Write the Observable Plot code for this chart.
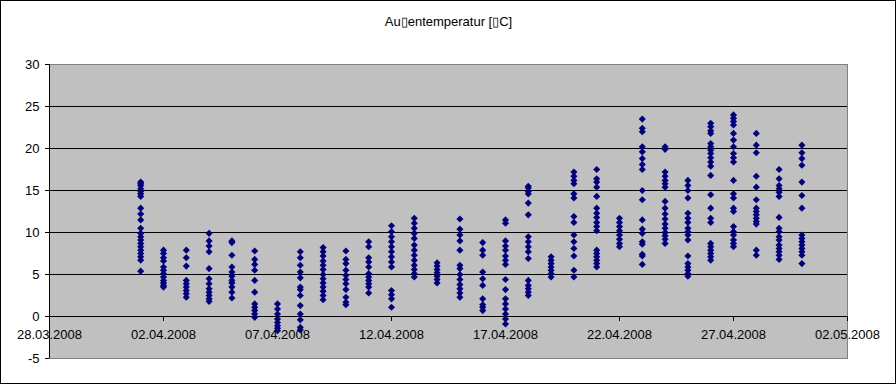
<!DOCTYPE html>
<html>
<head>
<meta charset="utf-8">
<script src="https://cdn.jsdelivr.net/npm/d3@7"></script>
<script src="https://cdn.jsdelivr.net/npm/@observablehq/plot@0.6"></script>
<style>
html, body { margin: 0; padding: 0; background: #fff; overflow: hidden; }
</style>
</head>
<body>
<div id="chart"></div>
<script>
const title = "Au\u25AFentemperatur [\u25AFC]";

const days = [
  "01.04.2008","02.04.2008","03.04.2008","04.04.2008","05.04.2008","06.04.2008",
  "07.04.2008","08.04.2008","09.04.2008","10.04.2008","11.04.2008","12.04.2008",
  "13.04.2008","14.04.2008","15.04.2008","16.04.2008","17.04.2008","18.04.2008",
  "19.04.2008","20.04.2008","21.04.2008","22.04.2008","23.04.2008","24.04.2008",
  "25.04.2008","26.04.2008","27.04.2008","28.04.2008","29.04.2008","30.04.2008"
];

const temps = [
  [16.0,15.8,15.6,15.2,14.9,14.6,14.3,12.9,12.2,11.5,10.5,9.9,9.5,9.1,8.7,8.3,7.9,7.5,7.1,6.7,5.4],
  [7.9,7.5,7.0,6.6,5.9,5.5,5.1,4.7,4.3,4.0,3.7,3.5],
  [7.9,7.0,6.0,4.3,3.9,3.5,3.1,2.7,2.3],
  [9.9,9.0,8.4,7.7,5.7,4.5,3.9,3.3,2.9,2.5,2.1,1.8],
  [9.0,8.8,7.3,5.9,5.3,4.8,4.3,4.0,3.5,2.9,2.2],
  [7.8,6.8,6.2,5.5,4.3,2.9,1.5,1.1,0.7,0.3,-0.1],
  [1.5,0.9,0.3,-0.3,-0.7,-1.1,-1.4,-1.7],
  [7.7,7.0,6.1,5.3,4.6,3.5,3.2,2.5,1.3,0.3,-0.4,-1.3,-1.6],
  [8.2,7.7,7.2,6.6,6.1,5.6,5.0,4.5,4.0,3.5,3.0,2.5,2.0],
  [7.8,6.8,6.3,5.5,4.9,4.4,3.9,3.2,2.3,1.7,1.4],
  [8.9,8.3,7.0,6.5,5.9,5.1,4.7,4.3,3.9,3.5,2.8],
  [10.8,10.1,9.5,8.9,8.3,7.7,7.1,6.5,5.9,3.1,2.6,2.1,1.1],
  [11.7,11.1,10.5,9.9,9.3,8.5,7.9,7.3,6.7,6.1,5.6,5.1,4.7],
  [6.4,6.0,5.6,5.2,4.8,4.4,4.0],
  [11.6,10.4,9.7,9.0,7.9,6.1,5.7,5.0,4.4,3.8,3.3,2.8,2.3],
  [8.8,7.9,7.3,5.3,4.5,3.7,2.1,1.4,1.1,0.7],
  [11.5,11.1,9.0,8.4,7.9,7.2,6.7,6.2,4.4,3.2,2.1,1.5,0.9,0.3,-0.3,-0.9],
  [15.5,15.3,14.9,14.6,13.5,12.1,9.5,8.9,8.3,7.7,6.9,4.3,3.7,3.3,2.9,2.5],
  [7.1,6.7,6.3,5.9,5.5,5.1,4.7],
  [17.2,16.7,16.2,15.8,14.6,14.1,11.9,11.2,9.7,8.9,8.1,7.2,5.5,4.7],
  [17.5,16.4,16.0,15.4,14.3,12.9,12.3,11.8,11.2,10.7,10.2,7.9,7.5,7.1,6.7,6.3,5.9],
  [11.7,11.2,10.7,10.2,9.7,9.2,8.7,8.3],
  [23.5,22.4,22.0,20.2,19.6,18.8,18.1,17.5,15.0,13.9,11.5,10.4,9.9,8.9,8.6,7.4,7.2,6.2],
  [20.2,19.9,17.2,16.7,16.2,15.8,15.4,13.7,12.9,12.2,11.6,11.0,10.5,10.0,9.6,9.2,8.7],
  [16.2,15.6,15.0,14.1,12.3,11.7,11.2,10.5,10.1,9.7,9.1,7.2,6.3,5.9,5.5,5.1,4.8],
  [23.0,22.6,22.1,21.8,20.6,20.2,19.8,19.4,18.9,18.4,17.9,16.8,14.5,12.9,11.7,11.2,8.7,8.3,7.9,7.5,7.1,6.7],
  [24.0,23.6,23.2,22.8,21.8,21.0,20.2,19.4,18.9,18.4,16.2,14.6,14.1,12.9,12.5,10.7,10.1,9.7,9.1,8.7,8.3],
  [21.8,20.4,19.5,16.7,15.4,13.9,12.9,12.5,12.1,11.7,11.3,11.0,7.9,7.3],
  [17.5,16.4,15.6,15.2,14.8,14.3,11.8,10.5,10.1,9.5,9.1,8.5,8.1,7.7,7.3,6.8],
  [20.4,19.5,18.8,18.0,16.0,14.4,12.9,9.7,9.3,8.9,8.5,8.1,7.7,7.3,6.3]
];

const xTickLabels = ["28.03.2008","02.04.2008","07.04.2008","12.04.2008","17.04.2008","22.04.2008","27.04.2008","02.05.2008"];
const yTicks = [-5,0,5,10,15,20,25,30];
const gridValues = [5,10,15,20,25];

const parse = d3.utcParse("%d.%m.%Y");
const points = days.flatMap((d, i) => temps[i].map(t => ({date: parse(d), temp: t})));
const xTicks = xTickLabels.map(parse);

const font = "'Liberation Sans', Arial, sans-serif";
const svgNS = "http://www.w3.org/2000/svg";

function xAxisTicks(index, scales) {
  const g = document.createElementNS(svgNS, "g");
  const y0 = Math.round(scales.y(0));
  for (const t of xTicks) {
    const x = Math.round(scales.x(t)) + 0.5;
    const l = document.createElementNS(svgNS, "line");
    l.setAttribute("x1", x); l.setAttribute("x2", x);
    l.setAttribute("y1", y0); l.setAttribute("y2", y0 + 5);
    l.setAttribute("stroke", "#000");
    g.appendChild(l);
  }
  return g;
}

function outerBorder(index, scales, values, dims) {
  const r = document.createElementNS(svgNS, "rect");
  r.setAttribute("x", 0.5); r.setAttribute("y", 0.5);
  r.setAttribute("width", dims.width - 1); r.setAttribute("height", dims.height - 1);
  r.setAttribute("fill", "none"); r.setAttribute("stroke", "#000");
  return r;
}

const chart = Plot.plot({
  width: 896,
  height: 384,
  marginLeft: 49,
  marginRight: 49,
  marginTop: 64,
  marginBottom: 26,
  style: {fontFamily: font, fontSize: "13px", color: "#000", background: "#fff"},
  x: {type: "utc", domain: [xTicks[0], xTicks[xTicks.length - 1]], axis: null},
  y: {domain: [-5, 30], axis: null},
  marks: [
    Plot.frame({fill: "#c0c0c0", stroke: "none"}),
    Plot.ruleY(gridValues, {stroke: "#000"}),
    Plot.ruleY([0], {stroke: "#000"}),
    Plot.dot(points, {x: "date", y: "temp", symbol: "diamond2", r: 3.2, fill: "#000080", stroke: "none"}),
    Plot.text(xTickLabels, {x: d => parse(d), y: 0, text: d => d, dy: 18, lineAnchor: "middle", fill: "#000", fontSize: 13}),
    Plot.frame({stroke: "#808080", fill: "none"}),
    Plot.ruleX([xTicks[0]], {stroke: "#000"}),
    xAxisTicks,
    Plot.axisY({ticks: yTicks, tickSize: 4, tickPadding: 6, tickFormat: d => String(d), label: null, fontSize: 13}),
    Plot.text([title], {frameAnchor: "top", dy: -42.5, lineAnchor: "middle", fill: "#000", fontSize: 13}),
    outerBorder
  ]
});

document.getElementById("chart").appendChild(chart);
</script>
</body>
</html>
